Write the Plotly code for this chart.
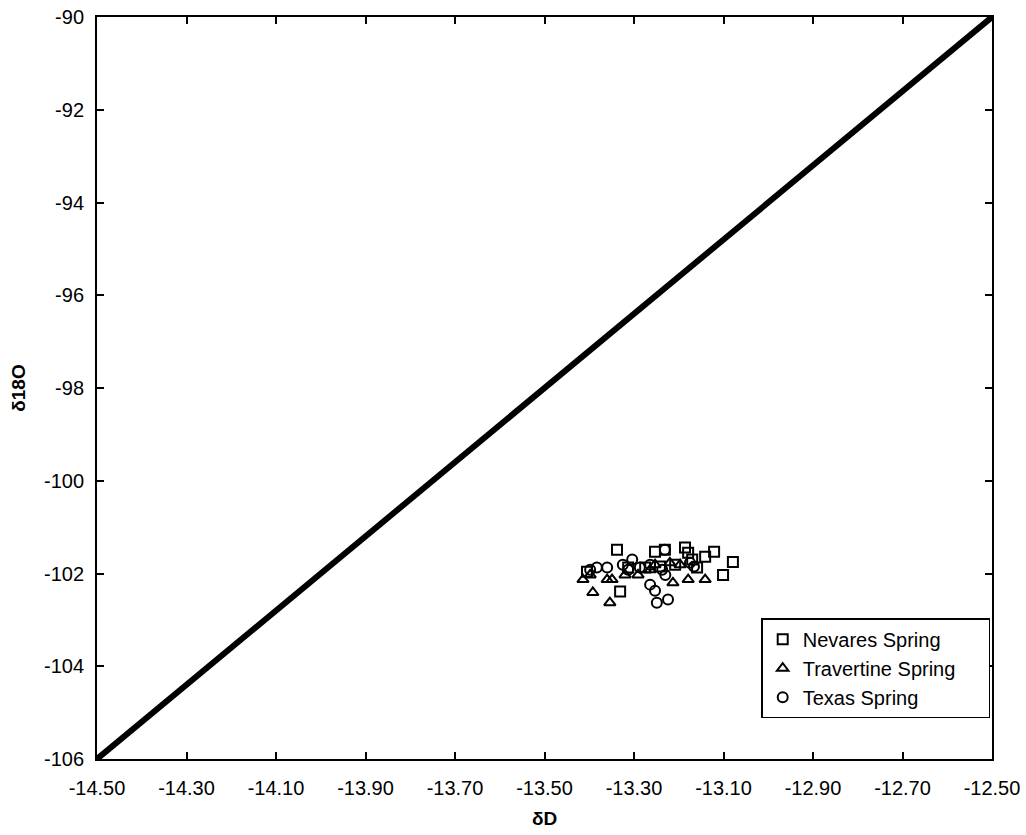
import plotly.graph_objects as go

line_x = [-14.5, -12.5]
line_y = [-106.0, -90.0]

nevares_x = [-13.338, -13.405, -13.331, -13.253, -13.231, -13.242, -13.275, -13.208, -13.186,
             -13.179, -13.170, -13.159, -13.141, -13.121, -13.079, -13.101, -13.313]
nevares_y = [-101.49, -101.96, -102.39, -101.53, -101.49, -101.85, -101.87, -101.81, -101.44,
             -101.55, -101.70, -101.87, -101.64, -101.53, -101.75, -102.03, -101.87]

travertine_x = [-13.414, -13.392, -13.354, -13.360, -13.349, -13.291, -13.213, -13.179, -13.141,
                -13.197, -13.220, -13.264, -13.253, -13.398, -13.320]
travertine_y = [-102.13, -102.41, -102.63, -102.13, -102.13, -102.03, -102.20, -102.13, -102.13,
                -101.81, -101.77, -101.92, -101.81, -102.03, -102.03]

texas_x = [-13.383, -13.360, -13.398, -13.325, -13.304, -13.313, -13.287, -13.264, -13.231,
           -13.237, -13.264, -13.253, -13.249, -13.224, -13.175, -13.166, -13.230]
texas_y = [-101.87, -101.87, -101.92, -101.81, -101.70, -101.92, -101.87, -101.81, -101.49,
           -101.92, -102.24, -102.37, -102.63, -102.56, -101.77, -101.85, -102.03]

x_ticks = [-14.5, -14.3, -14.1, -13.9, -13.7, -13.5, -13.3, -13.1, -12.9, -12.7, -12.5]
y_ticks = [-90, -92, -94, -96, -98, -100, -102, -104, -106]

FONT = "Liberation Sans, Arial, sans-serif"
PAD = "&nbsp;" * 5

fig = go.Figure()
fig.add_trace(go.Scatter(x=line_x, y=line_y, mode="lines",
                         line=dict(color="black", width=6), showlegend=False,
                         hoverinfo="skip"))
mk = dict(color="black", size=10, line=dict(color="black", width=2))
fig.add_trace(go.Scatter(x=nevares_x, y=nevares_y, mode="markers", name="Nevares Spring" + PAD,
                         marker=dict(symbol="square-open", **mk)))
fig.add_trace(go.Scatter(x=travertine_x, y=travertine_y, mode="markers",
                         name="Travertine Spring" + PAD,
                         marker=dict(symbol="triangle-up-open", **mk)))
fig.add_trace(go.Scatter(x=texas_x, y=texas_y, mode="markers", name="Texas Spring" + PAD,
                         marker=dict(symbol="circle-open", **mk)))

axis_common = dict(showgrid=False, zeroline=False, showline=True, linecolor="black",
                   linewidth=2, mirror="ticks", ticks="inside", ticklen=7, tickwidth=1.5,
                   tickcolor="black", tickfont=dict(family=FONT, size=20, color="black"))

fig.update_xaxes(range=[-14.5, -12.5], tickvals=x_ticks,
                 ticktext=[f"{v:.2f}" for v in x_ticks],
                 ticklabelstandoff=10,
                 title=dict(text="<b>δD</b>", font=dict(family=FONT, size=19, color="black"),
                            standoff=14),
                 **axis_common)
fig.update_yaxes(range=[-106, -90], tickvals=y_ticks,
                 ticktext=[str(v) for v in y_ticks],
                 ticklabelstandoff=7,
                 title=dict(text="<b>δ18O</b>", font=dict(family=FONT, size=19, color="black"),
                            standoff=13),
                 **axis_common)

fig.update_layout(
    width=1026, height=835,
    margin=dict(l=97, r=34, t=17, b=76, autoexpand=False),
    plot_bgcolor="white", paper_bgcolor="white",
    font=dict(family=FONT, size=20, color="black"),
    legend=dict(x=0.998, y=0.055, xanchor="right", yanchor="bottom",
                bordercolor="black", borderwidth=1.5, bgcolor="white",
                font=dict(family=FONT, size=20, color="black"),
                tracegroupgap=0, itemwidth=30),
)

fig.write_html("out.html", config={"displayModeBar": False},
               post_script="document.body.style.margin='0';document.body.style.padding='0';")
